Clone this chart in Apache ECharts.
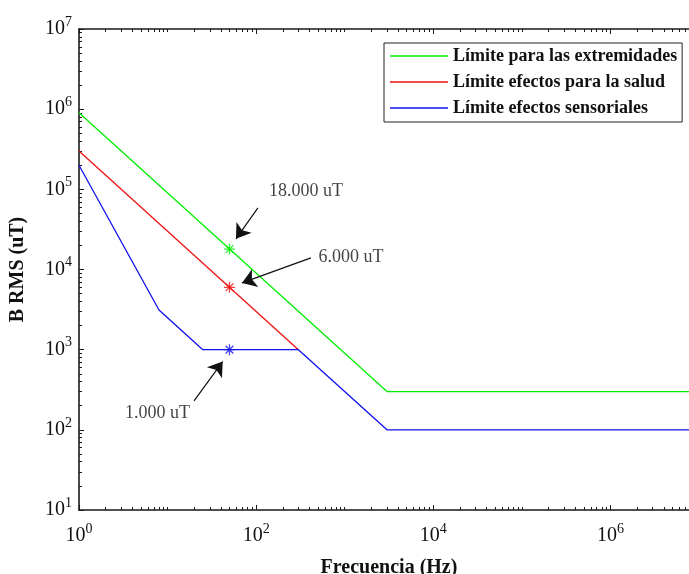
<!DOCTYPE html>
<html>
<head>
<meta charset="utf-8">
<script src="https://cdn.jsdelivr.net/npm/echarts@6/dist/echarts.min.js"></script>
<style>
  html, body { margin: 0; padding: 0; background: #ffffff; }
  #chart { width: 689px; height: 574px; }
</style>
</head>
<body>
<div id="chart"></div>
<script>
// Breakpoints of each limit curve: frequency (Hz) and flux density B RMS (uT)
const extremidadesFreq = [1, 3000, 1e7];
const extremidadesB = [9e5, 300, 300];
// the health limit runs under the sensorial curve beyond 300 Hz
const saludFreq = [1, 300];
const saludB = [3e5, 1000];
const sensorialesFreq = [1, 8, 25, 300, 3000, 1e7];
const sensorialesB = [2e5, 3125, 1000, 1000, 100, 100];

// Values at 50 Hz marked with an asterisk (green, red, blue)
const puntoFreq = 50;
const puntoB = [18000, 6000, 1000];

// Callouts: text anchor and arrow ends, in data coordinates
const calloutTextPos = [[365, 93600], [1175, 14350], [7.7, 161]];
const calloutArrowFrom = [[104.8, 58600], [415, 13960], [19.9, 230]];
const calloutArrowTo = [[59.2, 24100], [69.2, 6810], [41.9, 711]];

// Axis tick values
const xMajorTicks = [1, 1e2, 1e4, 1e6];
const yMajorTicks = [10, 1e2, 1e3, 1e4, 1e5, 1e6, 1e7];
const xMinorTicks = [];
const yMinorTicks = [];
for (let d = 0; d < 7; d++) {
  const base = Math.pow(10, d);
  for (let m = 2; m <= 9; m++) {
    xMinorTicks.push(m * base);
    if (d >= 1) yMinorTicks.push(m * base);
  }
  if (d % 2 === 1) xMinorTicks.push(base);
}
xMinorTicks.push(1e7);

const names = [
  'Límite para las extremidades',
  'Límite efectos para la salud',
  'Límite efectos sensoriales'
];
const colors = ['#00ee00', '#ee1111', '#1111ee'];

const FONT = 'Liberation Serif';
const INK = '#111111';
const AXIS_COLOR = '#1a1a1a';

const zip = (xs, ys) => xs.map((x, i) => [x, ys[i]]);
const thousands = v => String(v).replace(/\B(?=(\d{3})+(?!\d))/g, '.') + ' uT';

const pow10Label = v => '{b|10}{s|' + Math.round(Math.log10(v)) + '}';
const powRich = {
  b: { fontFamily: FONT, fontSize: 20, color: INK, lineHeight: 28 },
  s: { fontFamily: FONT, fontSize: 14, color: INK, lineHeight: 13, verticalAlign: 'top' }
};

const asterisk = 'path://M5,0L5,10M0,5L10,5M1.5,1.5L8.5,8.5M1.5,8.5L8.5,1.5';

function majorAxis(extra) {
  return Object.assign({
    type: 'log',
    logBase: 10,
    gridIndex: 0,
    splitLine: { show: false },
    axisLine: { show: true, onZero: false, lineStyle: { color: AXIS_COLOR, width: 1.6 } },
    axisPointer: { show: false },
    silent: true
  }, extra);
}
function minorAxis(extra) {
  return Object.assign({
    type: 'log',
    logBase: 10,
    gridIndex: 0,
    splitLine: { show: false },
    axisLine: { show: false, onZero: false },
    axisLabel: { show: false },
    axisPointer: { show: false },
    silent: true
  }, extra);
}

const xRange = { min: 1, max: 1e7 };
const yRange = { min: 10, max: 1e7 };

const option = {
  animation: false,
  backgroundColor: '#ffffff',
  grid: {
    left: 79, top: 29, right: -10, bottom: 64,
    containLabel: false,
    outerBoundsMode: 'none'
  },
  legend: {
    data: names,
    orient: 'vertical',
    left: 384,
    top: 43,
    padding: [4, 5, 5, 6],
    icon: 'rect',
    itemWidth: 58,
    itemHeight: 1.4,
    itemGap: 8,
    borderColor: '#222222',
    borderWidth: 1,
    backgroundColor: '#ffffff',
    selectedMode: false,
    textStyle: { fontFamily: FONT, fontSize: 18, fontWeight: 'bold', color: INK, lineHeight: 18 }
  },
  xAxis: [
    majorAxis(Object.assign({
      position: 'bottom',
      axisTick: { show: true, inside: true, length: 5, customValues: xMajorTicks, lineStyle: { color: AXIS_COLOR } },
      axisLabel: { show: true, customValues: xMajorTicks, formatter: pow10Label, rich: powRich, margin: 12 },
      name: 'Frecuencia (Hz)',
      nameLocation: 'middle',
      nameGap: 48,
      nameTextStyle: { fontFamily: FONT, fontSize: 20, fontWeight: 'bold', color: INK }
    }, xRange)),
    minorAxis(Object.assign({
      position: 'bottom',
      axisTick: { show: true, inside: true, length: 3, customValues: xMinorTicks, lineStyle: { color: AXIS_COLOR } }
    }, xRange)),
    majorAxis(Object.assign({
      position: 'top',
      axisTick: { show: true, inside: true, length: 5, customValues: xMajorTicks, lineStyle: { color: AXIS_COLOR } },
      axisLabel: { show: false }
    }, xRange)),
    minorAxis(Object.assign({
      position: 'top',
      axisTick: { show: true, inside: true, length: 3, customValues: xMinorTicks, lineStyle: { color: AXIS_COLOR } }
    }, xRange))
  ],
  yAxis: [
    majorAxis(Object.assign({
      position: 'left',
      axisTick: { show: true, inside: true, length: 5, customValues: yMajorTicks, lineStyle: { color: AXIS_COLOR } },
      axisLabel: { show: true, customValues: yMajorTicks, formatter: pow10Label, rich: powRich, margin: 7 },
      name: 'B RMS (uT)',
      nameLocation: 'middle',
      nameGap: 51,
      nameTextStyle: { fontFamily: FONT, fontSize: 20, fontWeight: 'bold', color: INK }
    }, yRange)),
    minorAxis(Object.assign({
      position: 'left',
      axisTick: { show: true, inside: true, length: 3, customValues: yMinorTicks, lineStyle: { color: AXIS_COLOR } }
    }, yRange))
  ],
  series: [
    {
      name: names[0], type: 'line', data: zip(extremidadesFreq, extremidadesB),
      symbol: 'none', silent: true,
      lineStyle: { color: colors[0], width: 1.3 }, itemStyle: { color: colors[0] }
    },
    {
      name: names[1], type: 'line', data: zip(saludFreq, saludB),
      symbol: 'none', silent: true,
      lineStyle: { color: colors[1], width: 1.3 }, itemStyle: { color: colors[1] }
    },
    {
      name: names[2], type: 'line', data: zip(sensorialesFreq, sensorialesB),
      symbol: 'none', silent: true,
      lineStyle: { color: colors[2], width: 1.3 }, itemStyle: { color: colors[2] }
    },
    {
      name: 'puntos 50 Hz', type: 'scatter', silent: true,
      symbol: asterisk, symbolSize: 11, z: 5,
      data: puntoB.map((b, i) => ({
        value: [puntoFreq, b],
        itemStyle: { color: 'rgba(0,0,0,0)', borderColor: colors[i], borderWidth: 1.3 }
      }))
    },
    {
      name: 'anotaciones', type: 'scatter', silent: true,
      symbol: 'circle', symbolSize: 1, z: 6,
      itemStyle: { color: 'rgba(0,0,0,0)' },
      data: calloutTextPos.map((p, i) => ({ value: p, name: thousands(puntoB[i]) })),
      label: {
        show: true, position: 'inside', formatter: '{b}',
        fontFamily: FONT, fontSize: 18, color: INK
      },
      markLine: {
        silent: true,
        symbol: ['none', 'arrow'],
        symbolSize: 14,
        label: { show: false },
        emphasis: { disabled: true },
        lineStyle: { color: INK, width: 1.2, type: 'solid' },
        data: calloutArrowFrom.map((p, i) => [{ coord: p }, { coord: calloutArrowTo[i] }])
      }
    }
  ]
};

const chart = echarts.init(document.getElementById('chart'), null, { renderer: 'canvas' });
chart.setOption(option);
</script>
</body>
</html>
